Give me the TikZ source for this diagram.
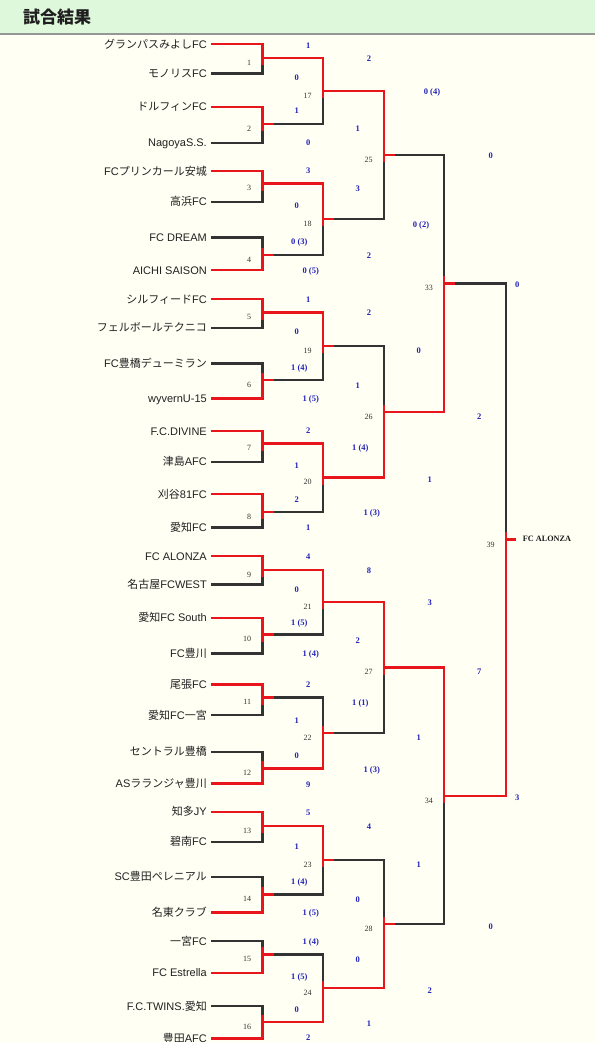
\documentclass[tikz,border=0pt]{standalone}
\usepackage{fontspec}
\setmainfont{Liberation Sans}
\newfontfamily\jp{Noto Sans CJK JP}
\newfontfamily\serifft{Liberation Serif}
\newcommand\J[1]{{\jp #1}}
\definecolor{bgc}{RGB}{255,255,244}
\definecolor{hdr}{RGB}{222,248,220}
\definecolor{hline}{RGB}{150,150,150}
\definecolor{wred}{RGB}{232,22,28}
\definecolor{lblk}{RGB}{51,51,51}
\definecolor{sblue}{RGB}{35,35,185}
\tikzset{
  team/.style={anchor=base east, font=\fontsize{11}{13}\selectfont, text=black!87, inner sep=0pt},
  score/.style={anchor=base, font=\serifft\bfseries\fontsize{8.5}{10}\selectfont, text=sblue, inner sep=0pt},
  mno/.style={anchor=base east, font=\serifft\fontsize{8}{10}\selectfont, text=lblk, inner sep=0pt},
  lose/.style={draw=lblk, line width=2.4pt, line cap=rect},
  win/.style={draw=wred, line width=2.4pt, line cap=rect},
}
% id, top input, bottom input, yout, x, xnext, winner (1/2), advanced (1/0)
\newcommand\bm[8]{%
  \coordinate (m#1a) at (#5,0 |- #2);
  \coordinate (m#1b) at (#5,0 |- #3);
  \coordinate (m#1) at (#5,#4);
  \coordinate (m#1n) at (#6,#4);
  \draw[lose] (m#1a) -- (m#1b);
  \ifnum#7=1 \draw[win] (m#1a) -- ([yshift=-6pt]m#1);\else \draw[win] (m#1b) -- ([yshift=6pt]m#1);\fi
  \ifnum#8=1 \draw[win] (m#1) -- (m#1n);\else \draw[lose] (m#1) -- (m#1n); \draw[win] (m#1) -- ++(10,0);\fi
  \node[mno] (n#1) at (#5-11,#4+7.4) {#1};
}
% id, team i, team j, yout, winner, advanced
\newcommand\rone[6]{%
  \bm{#1}{e#2}{e#3}{#4}{262.3}{322.7}{#5}{#6}
  \ifnum#5=1 \draw[lose] (e#3) -- (m#1b); \draw[win] (e#2) -- (m#1a);%
  \else \draw[lose] (e#2) -- (m#1a); \draw[win] (e#3) -- (m#1b);\fi
}
\begin{document}
\begin{tikzpicture}[x=1pt,y=-1pt]
\useasboundingbox (0,0) rectangle (595,1042);
\fill[bgc] (0,0) rectangle (595,1042);
\fill[hdr] (0,0) rectangle (595,34);
\draw[hline, line width=1.2pt] (0,34) -- (595,34);
\node[anchor=base west, inner sep=0pt, font=\jp\bfseries\fontsize{17}{20}\selectfont, text=black!88] (title) at (23,23.5) {試合結果};

\foreach \i/\y/\nm in {
 1/44/{\J{グランパスみよし}FC},
 2/73.3/{\J{モノリス}FC},
 3/106.7/{\J{ドルフィン}FC},
 4/142.7/{NagoyaS.S.},
 5/171/{FC\J{プリンカール安城}},
 6/201.7/{\J{高浜}FC},
 7/237.3/{FC DREAM},
 8/270/{AICHI SAISON},
 9/299/{\J{シルフィード}FC},
 10/327.7/{\J{フェルボールテクニコ}},
 11/363.3/{FC\J{豊橋デューミラン}},
 12/398.3/{wyvernU-15},
 13/431/{F.C.DIVINE},
 14/461.7/{\J{津島}AFC},
 15/494/{\J{刈谷}81FC},
 16/527.3/{\J{愛知}FC},
 17/556/{FC ALONZA},
 18/584.3/{\J{名古屋}FCWEST},
 19/617.7/{\J{愛知}FC South},
 20/653.3/{FC\J{豊川}},
 21/684.3/{\J{尾張}FC},
 22/715/{\J{愛知}FC\J{一宮}},
 23/751.7/{\J{セントラル豊橋}},
 24/783.3/{AS\J{ラランジャ豊川}},
 25/811.7/{\J{知多}JY},
 26/841.7/{\J{碧南}FC},
 27/876.7/{SC\J{豊田ペレニアル}},
 28/912.3/{\J{名東クラブ}},
 29/941/{\J{一宮}FC},
 30/972.7/{FC Estrella},
 31/1006/{F.C.TWINS.\J{愛知}},
 32/1038.3/{\J{豊田}AFC}}{
  \node[team] (t\i) at (207,\y+4) {\nm};
  \coordinate (e\i) at (211.7,\y);
}

\rone{1}{1}{2}{57.7}{1}{1}
\rone{2}{3}{4}{124}{1}{0}
\rone{3}{5}{6}{183.3}{1}{1}
\rone{4}{7}{8}{255}{2}{0}
\rone{5}{9}{10}{312.3}{1}{1}
\rone{6}{11}{12}{380}{2}{0}
\rone{7}{13}{14}{443.3}{1}{1}
\rone{8}{15}{16}{511.7}{1}{0}
\rone{9}{17}{18}{570}{1}{1}
\rone{10}{19}{20}{634.3}{1}{0}
\rone{11}{21}{22}{697.3}{1}{0}
\rone{12}{23}{24}{768.3}{2}{1}
\rone{13}{25}{26}{825.7}{1}{1}
\rone{14}{27}{28}{894.3}{2}{0}
\rone{15}{29}{30}{954.3}{2}{0}
\rone{16}{31}{32}{1021.7}{2}{1}

\bm{17}{m1n}{m2n}{90.85}{322.7}{383.7}{1}{1}
\bm{18}{m3n}{m4n}{219.15}{322.7}{383.7}{1}{0}
\bm{19}{m5n}{m6n}{346.15}{322.7}{383.7}{1}{0}
\bm{20}{m7n}{m8n}{477.5}{322.7}{383.7}{1}{1}
\bm{21}{m9n}{m10n}{602.15}{322.7}{383.7}{1}{1}
\bm{22}{m11n}{m12n}{732.8}{322.7}{383.7}{2}{0}
\bm{23}{m13n}{m14n}{860}{322.7}{383.7}{1}{0}
\bm{24}{m15n}{m16n}{988}{322.7}{383.7}{2}{1}

\bm{25}{m17n}{m18n}{155}{383.7}{444}{1}{0}
\bm{26}{m19n}{m20n}{411.8}{383.7}{444}{2}{1}
\bm{27}{m21n}{m22n}{667.5}{383.7}{444}{1}{1}
\bm{28}{m23n}{m24n}{924}{383.7}{444}{2}{0}

\bm{33}{m25n}{m26n}{283.4}{444}{505.7}{2}{0}
\bm{34}{m27n}{m28n}{795.75}{444}{505.7}{1}{1}

\bm{39}{m33n}{m34n}{539.6}{505.7}{515}{2}{1}
\node[anchor=base west, inner sep=0pt, font=\serifft\bfseries\fontsize{8.2}{10}\selectfont, text=black!90] (champ) at (522.7,541.3) {FC ALONZA};

\foreach \x/\y/\t [count=\k] in {
 308.3/45/1, 296.7/77.7/0, 296.7/110.7/1, 308.3/142/0,
 308.3/170.7/3, 296.7/205.7/0, 299.3/241.7/0 (3), 310.7/270.3/0 (5),
 308.3/299.3/1, 296.7/331.7/0, 299.3/367.7/1 (4), 310.7/398.7/1 (5),
 308.3/430/2, 296.7/465.7/1, 296.7/499/2, 308.3/527.3/1,
 308.3/556/4, 296.7/589/0, 299.3/622/1 (5), 310.7/653.3/1 (4),
 308.3/684.3/2, 296.7/720/1, 296.7/755.3/0, 308.3/784/9,
 308.3/812.7/5, 296.7/846/1, 299.3/881/1 (4), 310.7/912.7/1 (5),
 310.7/941.7/1 (4), 299.3/976.7/1 (5), 296.7/1009.3/0, 308.3/1037.7/2,
 369/58.7/2, 357.7/128.7/1, 357.7/188.3/3, 369/255.3/2,
 369/312.7/2, 357.7/385.7/1, 360.3/447.7/1 (4), 371.7/512.3/1 (3),
 369/570/8, 357.7/640/2, 360.3/702.3/1 (1), 371.7/769/1 (3),
 369/826.7/4, 357.7/899/0, 357.7/959/0, 369/1023.3/1,
 432/91.3/0 (4), 421/224/0 (2), 418.7/350/0, 429.7/479.3/1,
 429.7/602.3/3, 418.7/737.7/1, 418.7/864/1, 429.7/990/2,
 490.7/155.7/0, 479.3/416.7/2, 479.3/671/7, 490.7/926/0,
 517.3/284/0, 517.3/797.3/3}{
  \node[score] (s\k) at (\x,\y+3) {\t};
}
\end{tikzpicture}
\end{document}
